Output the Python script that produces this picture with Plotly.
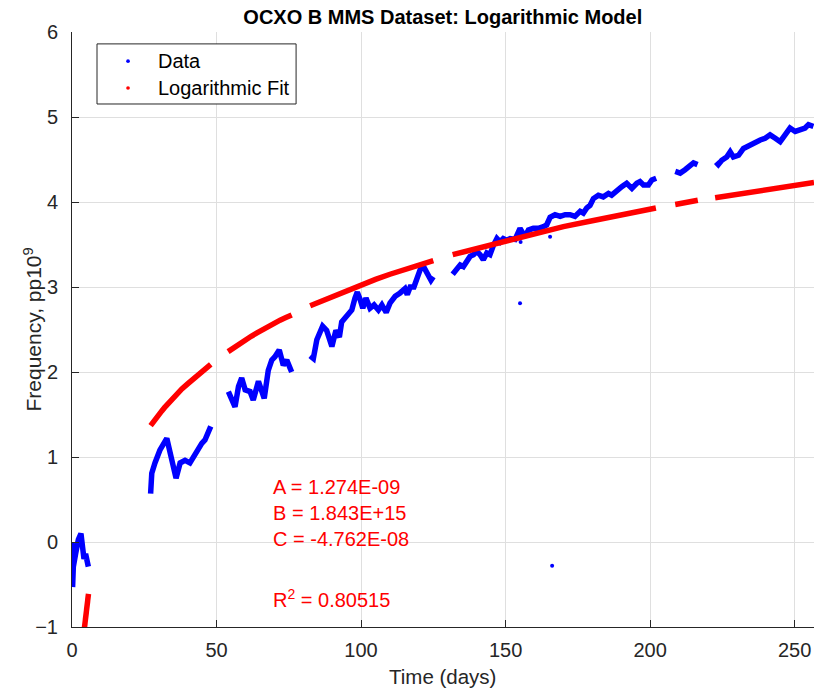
import plotly.graph_objects as go

# ---- Data; None marks gaps between runs ----
data_time = [
    0.0, 0.1, 0.2, 0.46, 1.3, 2.2, 3.1, 3.7, 4.15, 4.7, 5.2, 5.65, None,
    27.2, 27.6, 28.7, 30.4, 32.8, 34.5, 36.0, 37.4, 39.1, 40.8, 42.0, 43.7, 44.9, 46.0, 48.0, None,
    54.1, 55.8, 56.4, 57.6, 58.7, 59.9, 61.6, 62.7, 64.5, 66.5, 67.9, 69.1, 70.2, 71.7, 73.1, 74.3, 76.0, None,
    82.4, 83.5, 84.7, 86.7, 88.1, 89.9, 91.3, 92.5, 93.3, 95.0, 96.8, 97.9, 98.7, 99.7, 100.6, 101.7,
    103.1, 104.5, 106.0, 107.2, 108.7, 110.0, 111.8, 113.5, 115.2, 116.0, 117.0, 118.3, 119.3, 120.4,
    121.3, 123.3, 124.2, 125.0, None,
    131.7, 132.5, 134.3, 135.4, 136.6, 137.7, 138.9, 140.0, 141.2, 142.3, 143.5, 144.6, 145.8, 147.0,
    148.1, 149.2, 150.4, 151.6, 153.3, 155.0, 156.7, 157.9, 159.6, 161.3, 163.1, 164.2, 165.4, 167.1,
    168.9, 170.6, 172.3, 174.0, 175.8, 176.9, 178.1, 179.2, 180.4, 182.1, 183.8, 185.6, 186.7, 188.5,
    190.2, 191.9, 193.7, 195.4, 196.5, 197.7, 199.4, 200.6, 202.1, None,
    208.7, 210.4, 212.1, 213.8, 215.0, 216.4, None,
    222.8, 223.6, 224.8, 226.5, 227.7, 228.8, 230.6, 232.3, 233.5, 234.6, 236.3, 238.1, 239.8, 241.5,
    243.3, 245.0, 246.7, 248.4, 250.2, 251.9, 253.6, 254.8, 256.5,
]
data_freq = [
    0.0, -0.30, -0.53, -0.29, -0.13, 0.03, 0.10, -0.02, -0.20, -0.14, -0.20, -0.29, None,
    0.57, 0.81, 0.93, 1.08, 1.22, 0.93, 0.75, 0.93, 0.96, 0.93, 1.00, 1.12, 1.16, 1.20, 1.36, None,
    1.77, 1.61, 1.59, 1.83, 1.93, 1.79, 1.77, 1.67, 1.89, 1.69, 2.02, 2.14, 2.18, 2.26, 2.08, 2.14, 2.00, None,
    2.19, 2.16, 2.38, 2.54, 2.49, 2.30, 2.49, 2.41, 2.59, 2.67, 2.73, 2.87, 2.94, 2.85, 2.75, 2.87,
    2.75, 2.79, 2.73, 2.79, 2.70, 2.81, 2.89, 2.93, 2.98, 2.91, 3.00, 3.00, 3.12, 3.20,
    3.26, 3.14, 3.08, 3.12, None,
    3.15, 3.18, 3.26, 3.24, 3.32, 3.36, 3.38, 3.42, 3.38, 3.32, 3.40, 3.38, 3.49, 3.57,
    3.53, 3.57, 3.55, 3.57, 3.56, 3.69, 3.59, 3.67, 3.69, 3.69, 3.71, 3.73, 3.82, 3.85,
    3.83, 3.85, 3.85, 3.83, 3.89, 3.87, 3.93, 3.96, 4.04, 4.08, 4.06, 4.10, 4.08, 4.14,
    4.18, 4.22, 4.16, 4.22, 4.24, 4.20, 4.20, 4.26, 4.28, None,
    4.36, 4.34, 4.38, 4.42, 4.46, 4.44, None,
    4.47, 4.44, 4.49, 4.53, 4.59, 4.53, 4.55, 4.63, 4.65, 4.67, 4.71, 4.73, 4.75, 4.79,
    4.75, 4.71, 4.79, 4.87, 4.83, 4.85, 4.87, 4.91, 4.89,
]
# isolated stray readings
stray_time = [155.0, 166.1, 155.2, 165.4]
stray_freq = [2.81, -0.28, 3.53, 3.59]

fit_time = [
    3.5, 4.0, 4.5, 5.0, 5.7, None,
    27.2, 28.0, 29.0, 30.0, 31.0, 32.0, 33.0, 34.0, 35.0, 36.0, 38.0, 40.0, 42.0, 44.0, 46.0, 48.0, None,
    54.0, 56.0, 58.0, 60.0, 62.0, 64.0, 66.0, 68.0, 70.0, 72.0, 74.0, 76.0, None,
    82.4, 86.0, 90.0, 95.0, 100.0, 105.0, 110.0, 115.0, 120.0, 125.0, None,
    131.7, 140.0, 150.0, 160.0, 170.0, 180.0, 190.0, 202.0, None,
    208.7, 216.5, None,
    222.5, 230.0, 240.0, 250.0, 256.7,
]
fit_freq = [
    -1.24, -1.07, -0.92, -0.79, -0.61, None,
    1.37, 1.41, 1.45, 1.50, 1.54, 1.58, 1.62, 1.66, 1.70, 1.73, 1.80, 1.86, 1.92, 1.98, 2.03, 2.09, None,
    2.24, 2.29, 2.33, 2.38, 2.42, 2.46, 2.50, 2.54, 2.57, 2.61, 2.64, 2.67, None,
    2.78, 2.83, 2.89, 2.96, 3.03, 3.09, 3.15, 3.20, 3.26, 3.31, None,
    3.38, 3.45, 3.54, 3.63, 3.71, 3.78, 3.85, 3.93, None,
    3.97, 4.02, None,
    4.05, 4.09, 4.14, 4.19, 4.23,
]

x_ticks = [0, 50, 100, 150, 200, 250]
y_ticks = [-1, 0, 1, 2, 3, 4, 5, 6]
legend_labels = ["Data", "Logarithmic Fit"]
fit_params = ["A = 1.274E-09", "B = 1.843E+15", "C = -4.762E-08", "R<sup>2</sup> = 0.80515"]

BLUE = "#0000ff"
RED = "#ff0000"
AXC = "#262626"
FONT = "Liberation Sans, Arial, Helvetica, sans-serif"

fig = go.Figure()
fig.add_trace(go.Scatter(x=data_time, y=data_freq, mode="lines",
                         line=dict(color=BLUE, width=5.5), connectgaps=False,
                         showlegend=False, hoverinfo="skip"))
fig.add_trace(go.Scatter(x=stray_time, y=stray_freq, mode="markers",
                         marker=dict(color=BLUE, size=4), showlegend=False))
fig.add_trace(go.Scatter(x=fit_time, y=fit_freq, mode="lines",
                         line=dict(color=RED, width=5.5), connectgaps=False,
                         showlegend=False, hoverinfo="skip"))

# Manual legend (box, dots, labels) in plot-area paper coordinates
fig.add_shape(type="rect", xref="paper", yref="paper",
              x0=0.0337, x1=0.302, y0=0.879, y1=0.980,
              line=dict(color=AXC, width=1), fillcolor="white", layer="above")
leg_rows = [0.951, 0.906]
for lab, col, yy in zip(legend_labels, [BLUE, RED], leg_rows):
    fig.add_shape(type="circle", xref="paper", yref="paper",
                  x0=0.0755 - 0.0025, x1=0.0755 + 0.0025,
                  y0=yy - 0.003, y1=yy + 0.003,
                  line=dict(color=col, width=0), fillcolor=col, layer="above")
    fig.add_annotation(text=lab, xref="paper", yref="paper", x=0.1130, y=yy,
                       xanchor="left", yanchor="middle", showarrow=False,
                       font=dict(family=FONT, size=20, color="black"))

ann_y = [0.647, 0.341, 0.035, -0.66]
for txt, yy in zip(fit_params, ann_y):
    fig.add_annotation(text=txt, x=68.9, y=yy, xref="x", yref="y",
                       xanchor="left", yanchor="middle", showarrow=False,
                       font=dict(family=FONT, size=20, color=RED))

# Axis titles placed as annotations for exact positioning
fig.add_annotation(text="Time (days)", xref="paper", yref="paper",
                   x=0.4987, y=-0.084, xanchor="center", yanchor="middle",
                   showarrow=False, font=dict(family=FONT, size=20.5, color=AXC))
fig.add_annotation(text="Frequency, pp10<sup>9</sup>", xref="paper", yref="paper",
                   x=-0.0539, y=0.5, xanchor="center", yanchor="middle", textangle=-90,
                   showarrow=False, font=dict(family=FONT, size=21, color=AXC))

fig.update_layout(
    width=814, height=691,
    margin=dict(l=72, r=0, t=32, b=64),
    paper_bgcolor="white", plot_bgcolor="white",
    font=dict(family=FONT, size=20, color=AXC),
    title=dict(text="<b>OCXO B MMS Dataset: Logarithmic Model</b>",
               x=0.544, xanchor="center", y=1 - 17 / 691, yanchor="middle",
               yref="container", font=dict(family=FONT, size=20, color="black")),
    showlegend=False,
)
fig.update_xaxes(range=[0, 256.7], tickvals=x_ticks, ticks="inside", ticklen=7,
                 tickcolor=AXC, showline=True, linecolor=AXC, linewidth=1,
                 showgrid=True, gridcolor="#dfdfdf", gridwidth=1, zeroline=False,
                 tickfont=dict(family=FONT, size=20, color=AXC), ticklabelstandoff=5)
fig.update_yaxes(range=[-1, 6], tickvals=y_ticks, ticks="inside", ticklen=7,
                 tickcolor=AXC, showline=True, linecolor=AXC, linewidth=1,
                 showgrid=True, gridcolor="#dfdfdf", gridwidth=1, zeroline=False,
                 tickfont=dict(family=FONT, size=20, color=AXC), ticklabelstandoff=9)

fig.write_html("out.html")
